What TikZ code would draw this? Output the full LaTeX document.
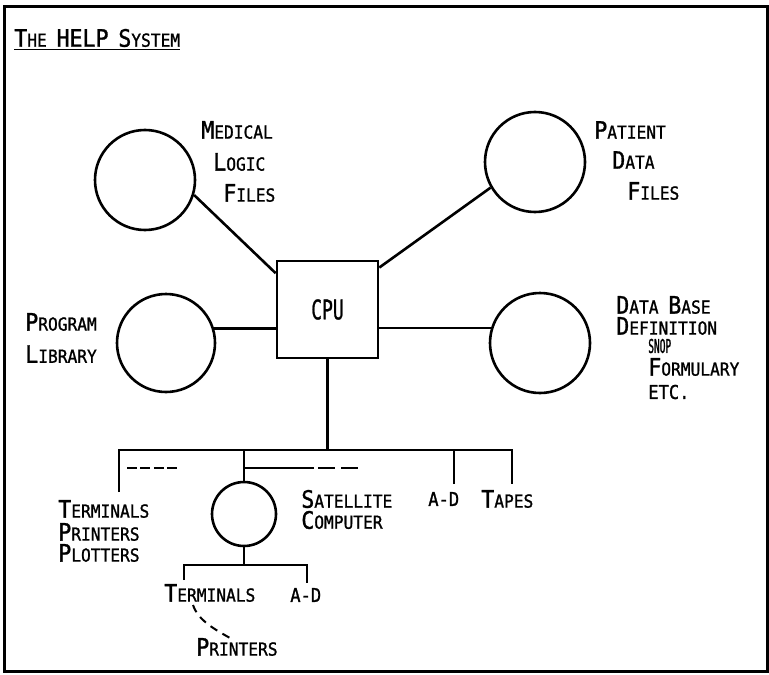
\documentclass[tikz,border=0pt]{standalone}
\usepackage{fontspec}
\setmainfont{DejaVu Sans Mono}[FakeStretch=0.9, FakeBold=1.2]
\newfontfamily\squash{DejaVu Sans Mono}[FakeStretch=0.5, FakeBold=1.2]
\usepackage{graphicx}
\usetikzlibrary{calc}

\newcommand{\bigltr}{\fontsize{12}{12}\selectfont}
\newcommand{\smlltr}{\fontsize{9}{9}\selectfont}
\newcommand{\midltr}{\fontsize{9.5}{9.5}\selectfont}
\newcommand{\scword}[2]{{\bigltr #1}{\smlltr #2}}

\begin{document}
\begin{tikzpicture}[
  x=0.5pt, y=-0.5pt,
  line width=1.3pt,
  disk/.style={draw, circle, inner sep=0pt, minimum size=#1},
  unit/.style={draw, rectangle, inner sep=0pt, minimum width=50.5pt, minimum height=48.5pt, font=\fontsize{13.5}{13.5}\selectfont},
  word/.style={anchor=west, inner sep=0pt, font=\smlltr},
  gap/.style={line width=1.2pt, dash pattern=on 5pt off 1.7pt},
  gaplong/.style={line width=1.2pt, dash pattern=on 35pt off 2pt on 8.5pt off 3pt on 9pt off 20pt}
]
\useasboundingbox (0,0) rectangle (769,674);
\draw[line width=1.5pt] (4,7) rectangle (767,671);

\node[word] (title) at (13,40) {\underline{\scword{T}{HE} {\bigltr HELP} \scword{S}{YSTEM}}};

% central processor and the files round it
\node[unit] (cpu) at (327.5,309.5) {\scalebox{0.74}[1]{CPU}\hspace{14pt}};
\node[disk=50pt] (med) at (145,180) {};
\node[disk=50pt] (pat) at (535,162) {};
\node[disk=49pt] (prog) at (166,343) {};
\node[disk=50pt] (dbd) at (540,343) {};

\draw (med.-17) -- (cpu.145);
\draw (pat.210) -- (cpu.39);
\draw (prog.17) -- (prog.17 -| cpu.west);
\draw (cpu.east |- dbd.163) -- (dbd.163);

\node[word] (med1) at (200,130) {\scword{M}{EDICAL}};
\node[word] (med2) at (212,162) {\scword{L}{OGIC}};
\node[word] (med3) at (222,193) {\scword{F}{ILES}};

\node[word] (pat1) at (593,130) {\scword{P}{ATIENT}};
\node[word] (pat2) at (611,160) {\scword{D}{ATA}};
\node[word] (pat3) at (626,191) {\scword{F}{ILES}};

\node[word] (prog1) at (24,322) {\scword{P}{ROGRAM}};
\node[word] (prog2) at (24,354) {\scword{L}{IBRARY}};

\node[word] (dbd1) at (615,305) {\scword{D}{ATA} \scword{B}{ASE}};
\node[word] (dbd2) at (615,326) {\scword{D}{EFINITION}};
\node[word, font=\squash\fontsize{9.5}{9.5}\selectfont] (dbd3) at (647,346) {SNOP};
\node[word] (dbd4) at (647,367) {\scword{F}{ORMULARY}};
\node[word, font=\midltr] (dbd5) at (647,392) {ETC.};

% bus below the CPU
\coordinate (busL) at (119,450);
\coordinate (busR) at (512,450);
\coordinate (termtop) at (119,492);
\coordinate (adtop) at (454,484);
\coordinate (tapetop) at (512,484);
\node[disk=32pt] (sat) at (244,514) {};

\draw (cpu.south) -- (cpu.south |- busL);
\draw (termtop) -- (busL) -- (busR) -- (tapetop);
\draw (sat.north) -- (sat.north |- busL);
\draw (adtop) -- (adtop |- busL);
\draw[gap] (127,468) -- (177,468);
\draw[gaplong] (sat.north |- 0,468) -- (358,468);

\node[word] (term1) at (57,509) {\scword{T}{ERMINALS}};
\node[word] (term2) at (57,532) {\scword{P}{RINTERS}};
\node[word] (term3) at (57,553) {\scword{P}{LOTTERS}};
\node[word] (sat1) at (300,499) {\scword{S}{ATELLITE}};
\node[word] (sat2) at (300,520) {\scword{C}{OMPUTER}};
\node[word, font=\midltr] (ad) at (427,499) {A-D};
\node[word] (tapes) at (480,499) {\scword{T}{APES}};

% devices on the satellite computer
\coordinate (subbus) at (sat.south |- 0,565);
\coordinate (subL) at (184,580);
\coordinate (subR) at (307,583);
\draw (sat.south) -- (subbus);
\draw (subL) -- (subL |- subbus) -- (subR |- subbus) -- (subR);

\node[word] (subterm) at (163,593) {\scword{T}{ERMINALS}};
\node[word, font=\midltr] (subad) at (289,595) {A-D};
\node[word] (subprn) at (195,647) {\scword{P}{RINTERS}};

\coordinate (dashA) at (193,605);
\coordinate (dashB) at (230,638);
\draw[line width=1pt, dash pattern=on 4pt off 3pt] (dashA) .. controls (198,620) and (214,629) .. (dashB);

\end{tikzpicture}
\end{document}
